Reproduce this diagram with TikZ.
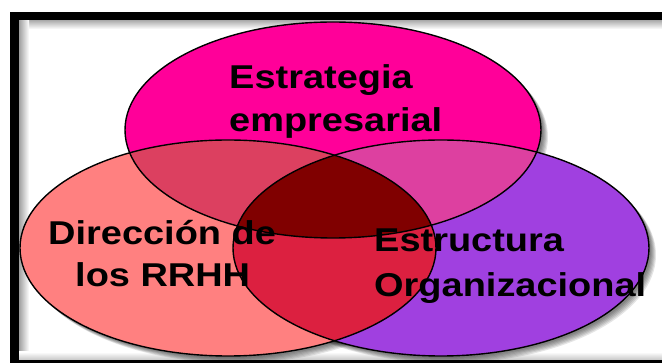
\documentclass[tikz,border=0pt]{standalone}
\usepackage{fontspec}
\setmainfont{Liberation Sans}[FakeStretch=1.15]
\definecolor{cpink}{RGB}{255,0,153}
\definecolor{csalmon}{RGB}{255,128,128}
\definecolor{cpurple}{RGB}{160,64,224}
\definecolor{cps}{RGB}{220,64,96}
\definecolor{cpp}{RGB}{221,64,160}
\definecolor{csp}{RGB}{220,32,64}
\definecolor{call}{RGB}{128,0,0}
\tikzset{
  lbl/.style={anchor=base west, inner sep=0pt, font=\bfseries\fontsize{33}{43}\selectfont, text=black},
  edge/.style={draw=black, line width=1.4pt},
  shd/.style={fill=black, fill opacity=0.10}
}
\begin{document}
\begin{tikzpicture}[x=1pt,y=-1pt]
\useasboundingbox (0,0) rectangle (662,363);
\clip (0,0) rectangle (662,363);
\fill[white] (0,0) rectangle (662,363);
% inner shadow of the frame
\shade[top color=gray!75, bottom color=white] (19,19) rectangle (662,29);
\shade[left color=gray!75, right color=white] (19,19) rectangle (29,360);
\shade[top color=white, bottom color=gray!45] (19,352) rectangle (662,360);
% frame
\draw[black, line width=8.5pt] (14.5,16) rectangle (700,364.5);
% ellipse centres
\coordinate (pc) at (333,130);
\coordinate (sc) at (228,248);
\coordinate (uc) at (441,248);
% drop shadows
\foreach \d in {2,3,4,5,6,7}{
  \fill[shd] ([shift={(\d,\d)}]pc) ellipse [x radius=208pt, y radius=108pt];
  \fill[shd] ([shift={(\d,\d)}]sc) ellipse [x radius=208pt, y radius=108pt];
  \fill[shd] ([shift={(\d,\d)}]uc) ellipse [x radius=208pt, y radius=108pt];
}
% fills
\fill[cpink] (pc) ellipse [x radius=208pt, y radius=108pt];
\fill[csalmon] (sc) ellipse [x radius=208pt, y radius=108pt];
\fill[cpurple] (uc) ellipse [x radius=208pt, y radius=108pt];
\begin{scope}
  \clip (pc) ellipse [x radius=208pt, y radius=108pt];
  \fill[cps] (sc) ellipse [x radius=208pt, y radius=108pt];
  \fill[cpp] (uc) ellipse [x radius=208pt, y radius=108pt];
\end{scope}
\begin{scope}
  \clip (sc) ellipse [x radius=208pt, y radius=108pt];
  \fill[csp] (uc) ellipse [x radius=208pt, y radius=108pt];
  \clip (uc) ellipse [x radius=208pt, y radius=108pt];
  \fill[call] (pc) ellipse [x radius=208pt, y radius=108pt];
\end{scope}
% outlines
\draw[edge] (pc) ellipse [x radius=208pt, y radius=108pt];
\draw[edge] (sc) ellipse [x radius=208pt, y radius=108pt];
\draw[edge] (uc) ellipse [x radius=208pt, y radius=108pt];
% labels
\node[lbl] (e1) at (229,89) {Estrategia};
\node[lbl] (e2) at (229,132) {empresarial};
\node[lbl] (d1) at (48,245) {Dirección de};
\node[lbl] (d2) at (75,287) {los RRHH};
\node[lbl] (o1) at (374,252) {Estructura};
\node[lbl] (o2) at (374,297) {Organizacional};
\end{tikzpicture}
\end{document}
